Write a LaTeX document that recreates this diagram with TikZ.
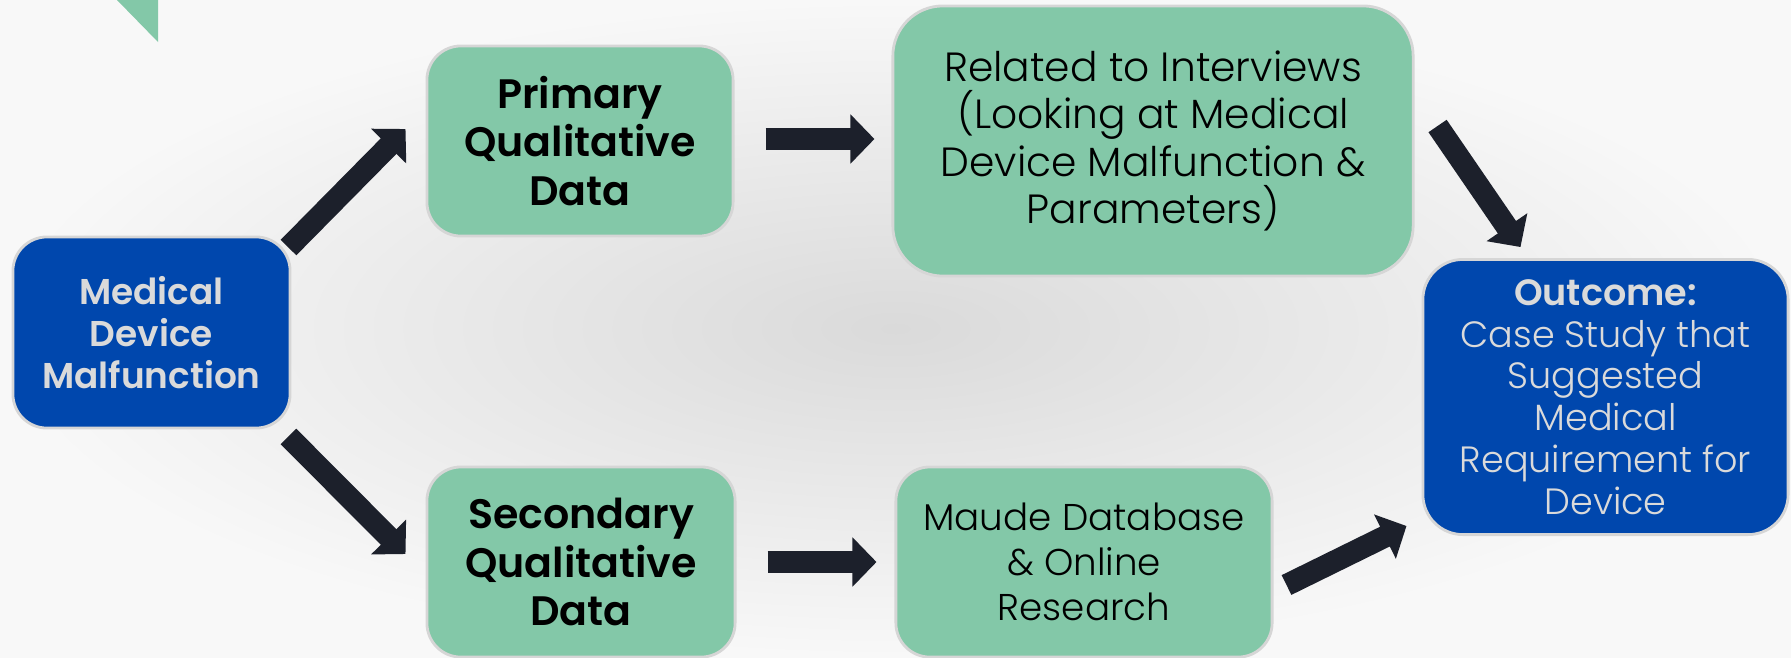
\documentclass[tikz,border=0pt]{standalone}
\usepackage{fontspec}
\setmainfont{Poppins}[BoldFont=Poppins SemiBold]
\newfontfamily\thinfont{Poppins Light}
\usetikzlibrary{arrows.meta}
\definecolor{boxgreen}{HTML}{83C8A8}
\definecolor{boxblue}{HTML}{0047AD}
\definecolor{arrowdark}{HTML}{1C202B}
\definecolor{paletext}{HTML}{DADADA}
\definecolor{boxline}{HTML}{D6D6D6}
\definecolor{shadecenter}{HTML}{DADADA}
\definecolor{shadeedge}{HTML}{F8F8F8}

\begin{document}
\begin{tikzpicture}[x=0.01cm,y=-0.01cm,
    greenbox/.style={draw=boxline,line width=0.8pt,fill=boxgreen,text=black,align=center,inner sep=0pt,rounded corners=0.34cm},
    bluebox/.style={draw=boxline,line width=0.8pt,fill=boxblue,text=paletext,align=center,inner sep=0pt,rounded corners=0.34cm},
    fatarrow/.style={draw=arrowdark,line width=0.22cm,-{Triangle[length=0.24cm,width=0.48cm]}}]
\useasboundingbox (0,0) rectangle (1791,657);
\shade[inner color=shadecenter,outer color=shadeedge] (0,0) rectangle (1791,657);
\fill[boxgreen] (117,0) -- (158,0) -- (158,42) -- cycle;

\node[bluebox,minimum width=2.77cm,minimum height=1.91cm,font=\bfseries\fontsize{10.2}{12}\selectfont] (med) at (151.5,332.5) {Medical\\Device\\Malfunction};
\node[greenbox,minimum width=3.06cm,minimum height=1.9cm,font=\bfseries\fontsize{11.7}{13.8}\selectfont] (prim) at (580,141) {Primary\\Qualitative\\Data};
\node[greenbox,minimum width=3.08cm,minimum height=1.9cm,font=\bfseries\fontsize{11.7}{13.8}\selectfont] (sec) at (581,562) {Secondary\\Qualitative\\Data};
\node[greenbox,minimum width=5.2cm,minimum height=2.7cm,rounded corners=0.5cm,font=\thinfont\fontsize{11.6}{13.5}\selectfont] (rel) at (1153,141) {Related to Interviews\\(Looking at Medical\\Device Malfunction \&\\Parameters)};
\node[greenbox,minimum width=3.76cm,minimum height=1.9cm,font=\thinfont\fontsize{10.6}{12.7}\selectfont] (maude) at (1084,562) {Maude Database\\\& Online\\Research};
\node[bluebox,minimum width=3.65cm,minimum height=2.75cm,rounded corners=0.4cm,font=\thinfont\fontsize{10.4}{11.9}\selectfont] (out) at (1605.5,397) {{\bfseries Outcome:}\\Case Study that\\Suggested\\Medical\\Requirement for\\Device};

\draw[fatarrow] ([shift={(-3,12)}]med.north east) -- ([shift={(-20,-12)}]prim.west);
\draw[fatarrow] ([shift={(-3,7)}]med.south east) -- ([shift={(-20,-8)}]sec.west);
\draw[fatarrow] ([shift={(31,-2)}]prim.east) -- ([shift={(-17,-2)}]rel.west);
\draw[fatarrow] ([shift={(31,0)}]sec.east) -- ([shift={(-18,0)}]maude.west);
\draw[fatarrow] ([shift={(23,-15)}]rel.east) -- ([shift={(99,-11)}]out.north west);
\draw[fatarrow] ([shift={(13,23)}]maude.east) -- ([shift={(-15,-10)}]out.south west);
\end{tikzpicture}
\end{document}
